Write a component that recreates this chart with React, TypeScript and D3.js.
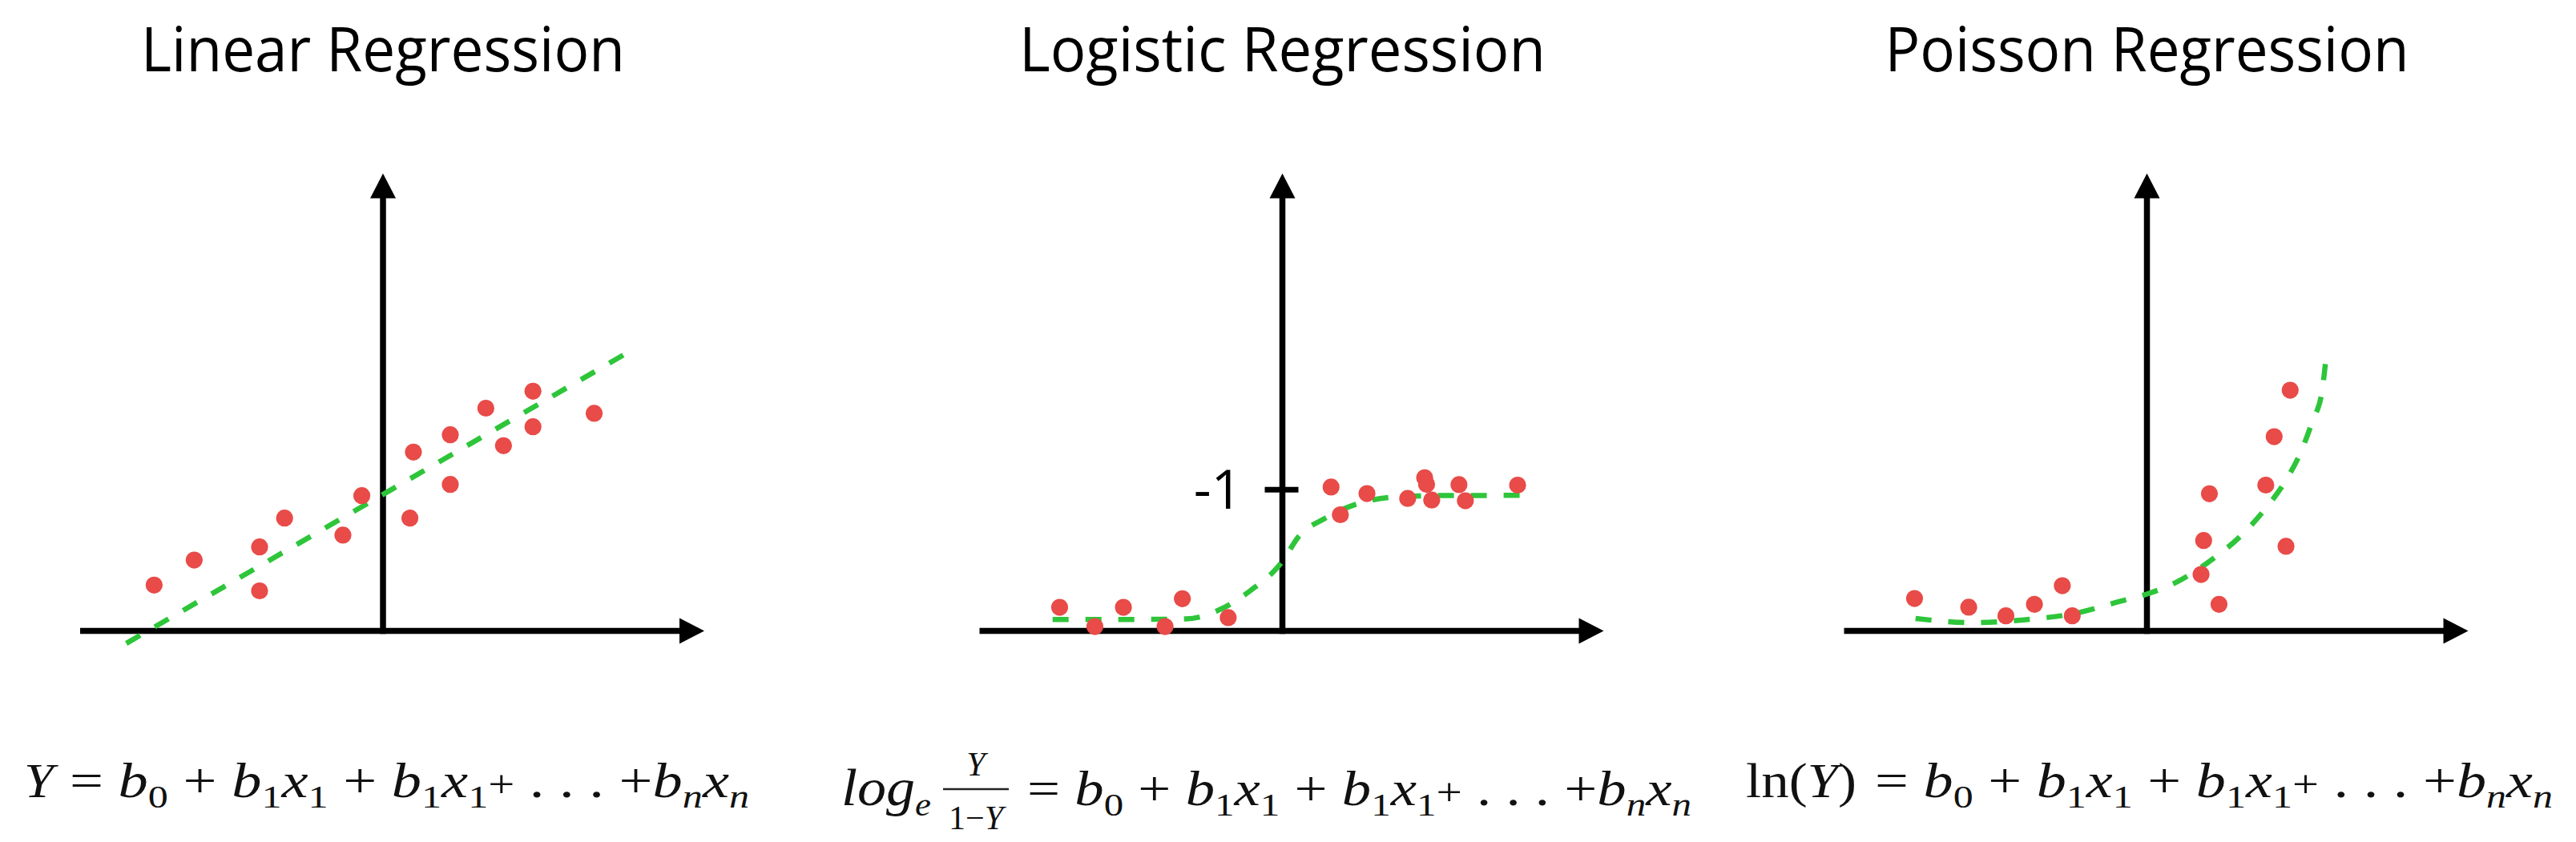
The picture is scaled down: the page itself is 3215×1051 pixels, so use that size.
import React from 'react';
import * as d3 from 'd3';

// ---------- data ----------
const titles = ['Linear Regression', 'Logistic Regression', 'Poisson Regression'];

// Linear regression panel (data units)
const linearX = [-7.14, -5.89, -3.85, -3.85, -3.07, -1.25, -0.66, 0.84, 0.95, 2.1, 2.1, 3.21, 3.76, 4.68, 4.68, 6.59];
const linearY = [1.43, 2.21, 2.62, 1.25, 3.52, 2.99, 4.22, 3.52, 5.58, 6.12, 4.57, 6.95, 5.78, 7.48, 6.37, 6.79];
const linearFitX = [-8.01, 7.88];
const linearFitY = [-0.39, 8.83];

// Logistic regression panel (y in probability units: 1 at the tick)
const logisticX = [-6.95, -5.85, -4.96, -3.66, -3.12, -1.69, 1.52, 1.81, 2.64, 3.91, 4.44, 4.5, 4.66, 5.51, 5.71, 7.34];
const logisticY = [0.167, 0.031, 0.167, 0.031, 0.228, 0.094, 1.019, 0.823, 0.973, 0.938, 1.085, 1.039, 0.927, 1.036, 0.922, 1.033];
const logisticCurveX = [-7.17, -5.01, -3.01, -1.99, -1.0, 0.0, 0.5, 1.34, 2.35, 3.49, 4.99, 7.66];
const logisticCurveY = [0.081, 0.081, 0.085, 0.147, 0.285, 0.492, 0.666, 0.799, 0.901, 0.948, 0.959, 0.96];
const logisticTickValues = [1];
const logisticTickLabels = ['-1'];

// Poisson regression panel (data units)
const poissonX = [-7.25, -5.56, -4.4, -3.51, -2.64, -2.33, 1.69, 1.77, 1.95, 2.25, 3.71, 3.97, 4.34, 4.47];
const poissonY = [1.01, 0.74, 0.47, 0.83, 1.41, 0.47, 1.76, 2.82, 4.28, 0.83, 4.55, 6.06, 2.64, 7.51];
const poissonCurveX = [-7.22, -5.52, -3.57, -2.28, -0.82, 0.0, 0.96, 2.09, 2.9, 3.71, 4.28, 4.84, 5.17, 5.46, 5.6];
const poissonCurveY = [0.39, 0.26, 0.37, 0.54, 0.93, 1.15, 1.54, 2.27, 2.94, 3.83, 4.61, 5.67, 6.56, 7.46, 8.63];

// ---------- layout & style ----------
const W = 3215;
const H = 1051;
const ORIGINS = [478, 1600.5, 2679.5];
const AXIS_Y = 787.5;
const AXIS_TOP = 216.5;
const AXIS_LEFT = 378;
const AXIS_RIGHT = 401;
const ARROW_LEN = 31;
const ARROW_HALF = 16;
const RED = '#e84b48';
const GREEN = '#2ec53a';
const BLACK = '#000';
const TITLE_FONT = "'Open Sans', 'Noto Sans', sans-serif";
const MATH_FONT = "'Liberation Serif', 'DejaVu Serif', serif";

type Seg = { t: string; it?: boolean; sub?: boolean; size?: number };

const SUB_DY = 13;
const SUB_SIZE = 41;
const BASE_SIZE = 61;

function segs(list: Seg[], base = BASE_SIZE) {
  let cur = 0;
  return list.map((s, i) => {
    const target = s.sub ? SUB_DY : 0;
    const dy = target - cur;
    cur = target;
    return (
      <tspan key={i} dy={dy} fontStyle={s.it ? 'italic' : 'normal'} fontSize={s.sub ? SUB_SIZE : s.size ?? base}>
        {s.t}
      </tspan>
    );
  });
}

const RHS: Seg[] = [
  { t: '=  ' },
  { t: 'b', it: true },
  { t: '0', sub: true },
  { t: ' + ' },
  { t: 'b', it: true },
  { t: '1', sub: true },
  { t: 'x', it: true },
  { t: '1', sub: true },
  { t: ' + ' },
  { t: 'b', it: true },
  { t: '1', sub: true },
  { t: 'x', it: true },
  { t: '1', sub: true },
  { t: '+', size: 48 },
  { t: ' . . . +' },
  { t: 'b', it: true },
  { t: 'n', sub: true, it: true },
  { t: 'x', it: true },
  { t: 'n', sub: true, it: true },
];

function Panel({ i, xs, ys, cx, cy, yDomainTop, yRangeTop, straight, ticks, tickLabels }: any) {
  const ox = ORIGINS[i];
  const x = d3.scaleLinear().domain([-10, 10]).range([ox - 400, ox + 400]);
  const y = d3.scaleLinear().domain([0, yDomainTop]).range([AXIS_Y, yRangeTop]);
  const pts = cx.map((v: number, k: number) => [v, cy[k]] as [number, number]);
  const line = d3
    .line<[number, number]>()
    .x((d) => x(d[0]))
    .y((d) => y(d[1]))
    .curve(straight ? d3.curveLinear : d3.curveMonotoneX);
  const xl = ox - AXIS_LEFT;
  const xr = ox + AXIS_RIGHT;
  return (
    <g>
      <text x={ox} y={89} textAnchor="middle" fontFamily={TITLE_FONT} fontSize={77} fill={BLACK}
        textLength={[604, 657, 654][i]} lengthAdjust="spacingAndGlyphs">
        {titles[i]}
      </text>
      {/* axes */}
      <line x1={xl} x2={xr - ARROW_LEN + 2} y1={AXIS_Y} y2={AXIS_Y} stroke={BLACK} strokeWidth={7.5} />
      <path d={`M${xr},${AXIS_Y} L${xr - ARROW_LEN},${AXIS_Y - ARROW_HALF} L${xr - ARROW_LEN},${AXIS_Y + ARROW_HALF} Z`} fill={BLACK} />
      <line x1={ox} x2={ox} y1={AXIS_Y + 3.75} y2={AXIS_TOP + ARROW_LEN - 2} stroke={BLACK} strokeWidth={7.5} />
      <path d={`M${ox},${AXIS_TOP} L${ox - ARROW_HALF},${AXIS_TOP + ARROW_LEN} L${ox + ARROW_HALF},${AXIS_TOP + ARROW_LEN} Z`} fill={BLACK} />
      {ticks &&
        ticks.map((t: number, k: number) => (
          <g key={k}>
            <line x1={ox - 22} x2={ox + 20} y1={y(t)} y2={y(t)} stroke={BLACK} strokeWidth={7} />
            <text x={ox - 50} y={y(t) + 24} textAnchor="end" fontFamily={TITLE_FONT} fontSize={68} fill={BLACK}>
              {tickLabels[k]}
            </text>
          </g>
        ))}
      <path d={line(pts) || ''} fill="none" stroke={GREEN} strokeWidth={6.5} strokeDasharray="20 21" />
      {xs.map((v: number, k: number) => (
        <circle key={k} cx={x(v)} cy={y(ys[k])} r={10.6} fill={RED} />
      ))}
    </g>
  );
}

export default function App() {
  return (
    <svg width={W} height={H} viewBox={`0 0 ${W} ${H}`} style={{ position: 'absolute', left: 0, top: 0, background: '#fff' }}>
      <rect width={W} height={H} fill="#fff" />
      <Panel i={0} xs={linearX} ys={linearY} cx={linearFitX} cy={linearFitY} yDomainTop={10} yRangeTop={AXIS_Y - 400} straight />
      <Panel i={1} xs={logisticX} ys={logisticY} cx={logisticCurveX} cy={logisticCurveY} yDomainTop={1} yRangeTop={611.3}
        ticks={logisticTickValues} tickLabels={logisticTickLabels} />
      <Panel i={2} xs={poissonX} ys={poissonY} cx={poissonCurveX} cy={poissonCurveY} yDomainTop={10} yRangeTop={AXIS_Y - 400} />

      {/* formulas */}
      <g fontFamily={MATH_FONT} fill="#111" style={{ whiteSpace: 'pre' }}>
        <text x={30} y={995} fontSize={BASE_SIZE} fontStyle="italic" textLength={37} lengthAdjust="spacingAndGlyphs">Y</text>
        <text x={87} y={995} textLength={848} lengthAdjust="spacingAndGlyphs">{segs(RHS)}</text>

        <text x={1050} y={1005} textLength={112} lengthAdjust="spacingAndGlyphs">
          {segs([{ t: 'log', it: true, size: 66 }, { t: 'e', it: true, sub: true }])}
        </text>
        <text x={1218} y={968} fontSize={42} fontStyle="italic" textAnchor="middle">Y</text>
        <line x1={1177} x2={1259} y1={985} y2={985} stroke="#222" strokeWidth={2.5} />
        <text x={1218} y={1035} fontSize={42} textAnchor="middle">
          1−<tspan fontStyle="italic">Y</tspan>
        </text>
        <text x={1282} y={1005} textLength={829} lengthAdjust="spacingAndGlyphs">{segs(RHS)}</text>

        <text x={2179} y={995} fontSize={BASE_SIZE} textLength={138} lengthAdjust="spacingAndGlyphs">
          ln(<tspan fontStyle="italic">Y</tspan>)
        </text>
        <text x={2340} y={995} textLength={846} lengthAdjust="spacingAndGlyphs">{segs(RHS)}</text>
      </g>
    </svg>
  );
}
